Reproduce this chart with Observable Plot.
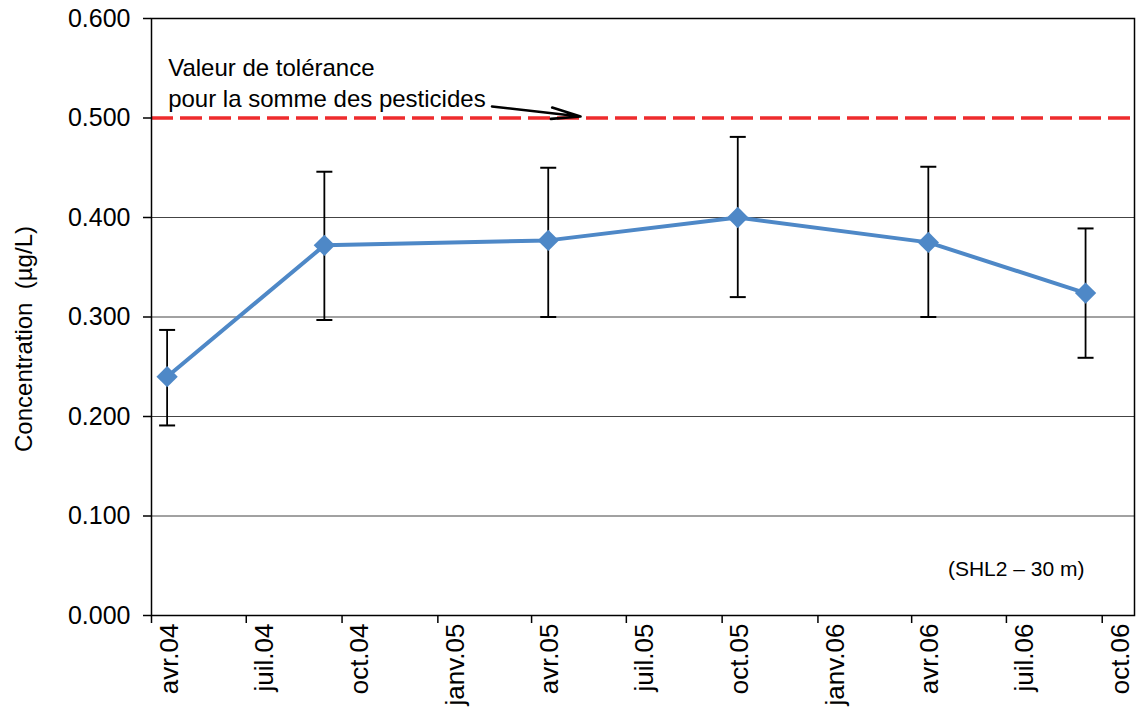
<!DOCTYPE html>
<html>
<head>
<meta charset="utf-8">
<script src="https://cdn.jsdelivr.net/npm/d3@7"></script>
<script src="https://cdn.jsdelivr.net/npm/@observablehq/plot@0.6"></script>
<style>
  html, body { margin: 0; padding: 0; background: #fff; }
  #chart svg { display: block; }
</style>
</head>
<body>
<div id="chart"></div>
<script>
// ---- Data ----
const sampleDates = ["2004-04-16", "2004-09-14", "2005-04-17", "2005-10-16", "2006-04-17", "2006-09-15"];
const concentrations = [0.240, 0.372, 0.377, 0.400, 0.375, 0.324];
const errorLow = [0.191, 0.297, 0.300, 0.320, 0.300, 0.259];
const errorHigh = [0.287, 0.446, 0.450, 0.481, 0.451, 0.389];

const xDomain = ["2004-04-01", "2006-11-01"];
const tickDates = ["2004-04-01", "2004-07-01", "2004-10-01", "2005-01-01", "2005-04-01", "2005-07-01",
                   "2005-10-01", "2006-01-01", "2006-04-01", "2006-07-01", "2006-10-01"];
const tickLabels = ["avr.04", "juil.04", "oct.04", "janv.05", "avr.05", "juil.05",
                    "oct.05", "janv.06", "avr.06", "juil.06", "oct.06"];
const yTicks = [0, 0.1, 0.2, 0.3, 0.4, 0.5, 0.6];
const gridValues = [0.1, 0.2, 0.3, 0.4];
const toleranceValue = [0.5];

const yLabel = "Concentration  (µg/L)";
const annotationText = ["Valeur de tolérance\npour la somme des pesticides"];
const annotationPos = [{date: "2004-04-17", value: 0.5367}];
const arrowPos = [{date1: "2005-02-22", value1: 0.5116, date2: "2005-05-18", value2: 0.5015}];
const stationLabel = ["(SHL2 – 30 m)"];

// ---- Build tables ----
const parse = d3.utcParse("%Y-%m-%d");
const data = sampleDates.map((d, i) => ({
  date: parse(d), value: concentrations[i], lo: errorLow[i], hi: errorHigh[i]
}));
const ticks = tickDates.map(parse);
const labelOf = new Map(ticks.map((t, i) => [+t, tickLabels[i]]));
const annot = annotationPos.map((a, i) => ({date: parse(a.date), value: a.value, text: annotationText[i]}));
const arrows = arrowPos.map(a => ({x1: parse(a.date1), y1: a.value1, x2: parse(a.date2), y2: a.value2}));

const blue = "#4E88C7";
const red = "#EE2B2D";

// horizontal cap symbol for error bars (half-width = r)
const capSymbol = {
  draw(ctx, size) {
    const h = Math.sqrt(size / Math.PI);
    ctx.moveTo(-h, 0);
    ctx.lineTo(h, 0);
  }
};

const font = "'Liberation Sans', Arial, sans-serif";

const chart = Plot.plot({
  width: 1136,
  height: 709,
  marginLeft: 151,
  marginRight: 2,
  marginTop: 18,
  marginBottom: 94,
  style: {fontFamily: font, background: "white", color: "black"},
  x: {type: "utc", domain: xDomain.map(parse)},
  y: {domain: [0, 0.6]},
  marks: [
    Plot.ruleY(gridValues, {stroke: "#444", strokeWidth: 1}),
    Plot.ruleY(toleranceValue, {stroke: red, strokeWidth: 3.5, strokeDasharray: "22,7"}),
    Plot.ruleX(data, {x: "date", y1: "lo", y2: "hi", stroke: "black", strokeWidth: 1.8}),
    Plot.dot(data, {x: "date", y: "lo", symbol: capSymbol, r: 8, stroke: "black", fill: "none", strokeWidth: 2}),
    Plot.dot(data, {x: "date", y: "hi", symbol: capSymbol, r: 8, stroke: "black", fill: "none", strokeWidth: 2}),
    Plot.line(data, {x: "date", y: "value", stroke: blue, strokeWidth: 4}),
    Plot.dot(data, {x: "date", y: "value", symbol: "diamond2", r: 9.6, fill: blue, stroke: "none"}),
    Plot.text(annot, {x: "date", y: "value", text: "text", textAnchor: "start", lineAnchor: "middle",
                      lineHeight: 1.28, fontSize: 24, fill: "black"}),
    Plot.arrow(arrows, {x1: "x1", y1: "y1", x2: "x2", y2: "y2", stroke: "black", strokeWidth: 2.6,
                        headLength: 26, headAngle: 22, bend: 0}),
    Plot.text(stationLabel, {frameAnchor: "bottom-right", textAnchor: "end", lineAnchor: "middle",
                             dx: -50, dy: -46, fontSize: 21, fill: "black"}),
    Plot.frame({stroke: "black", strokeWidth: 1.5}),
    Plot.axisY(yTicks, {tickSize: 8, tickPadding: 13, fontSize: 25, tickFormat: d => d.toFixed(3),
                        label: null, stroke: "black", strokeWidth: 1.5}),
    Plot.axisX(ticks, {tickSize: 8, tickFormat: () => "", label: null, stroke: "black", strokeWidth: 1.5}),
    Plot.axisX(ticks, {tickSize: 0, tickPadding: 8, tickRotate: -90, dx: 18, fontSize: 26,
                       tickFormat: d => labelOf.get(+d), label: null}),
    Plot.text([yLabel.replace(/  /g, "\u00A0 ")], {frameAnchor: "left", rotate: -90, textAnchor: "middle",
                       lineAnchor: "middle", dx: -127, dy: 22, fontSize: 24, fill: "black"})
  ]
});

document.getElementById("chart").appendChild(chart);
</script>
</body>
</html>
